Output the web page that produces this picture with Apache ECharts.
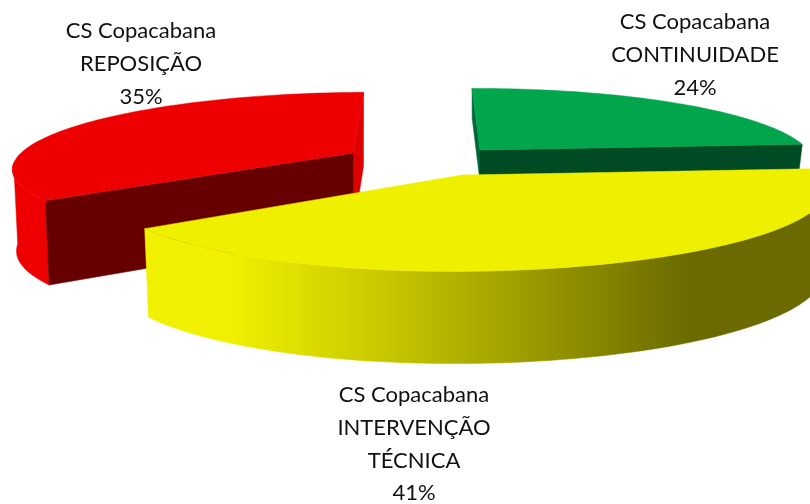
<!DOCTYPE html>
<html><head><meta charset="utf-8">
<style>html,body{margin:0;padding:0;background:#fff}#c{width:810px;height:504px}</style>
<script src="https://cdn.jsdelivr.net/npm/echarts@6/dist/echarts.min.js"></script>
</head><body><div id="c"></div>
<script>
const categories = ['CS Copacabana\nCONTINUIDADE', 'CS Copacabana\nINTERVENÇÃO\nTÉCNICA', 'CS Copacabana\nREPOSIÇÃO'];
const shares = [24, 41, 35];

// Presentation only: where each exploded slice sits and how it is shaded
const startAngle = -1, k = 0.17;
const looks = [
  {ax:480, ay:150, S:328, SR:328, T:72, vx:459, H:32, top:'#00A54C', cut:'#004A24', back:'#00683A', wall:'#00A54C', lx:695, ly:6},
  {ax:462, ay:175, S:351, SR:362, T:80, vx:506, H:84, top:'#EFEF00', cut:'#6A6A00', back:'#6A6A00',
   wall:{type:'linear', x:143, y:0, x2:810, y2:0, global:true, colorStops:[
     {offset:0, color:'#F0F000'}, {offset:0.13, color:'#F0F000'}, {offset:0.36, color:'#C8C800'},
     {offset:0.82, color:'#6A6A00'}, {offset:1, color:'#6A6A00'}]}, lx:414, ly:379},
  {ax:353, ay:153, S:332, SR:332, T:71, vx:460, H:80, top:'#EE0000', cut:'#660000', back:'#DD0000', wall:'#EE0000', lx:141, ly:15}
];

function project(l, deg, down) {
  const a = deg * Math.PI / 180, X = Math.sin(a), Y = -Math.cos(a), w = 1 - k * Y;
  let x = l.ax + (X > 0 ? l.SR : l.S) * X / w + (l.vx - l.ax) * (1 - 1 / w);
  let y = l.ay + l.T * Y / w;
  if (down) { x += (l.ax - x) * 0.012; y += l.H * Math.sqrt(1 / w); }
  return [x, y];
}
function arc(l, from, to, down) {
  const pts = [], n = Math.max(2, Math.ceil(Math.abs(to - from) / 1.5));
  for (let i = 0; i <= n; i++) pts.push(project(l, from + (to - from) * i / n, down));
  return pts;
}
function apex(l, down) {
  return down ? [l.ax, l.ay + l.H] : [l.ax, l.ay];
}
function poly(points, fill) {
  return {type:'polygon', shape:{points}, style:{fill, stroke:fill, lineWidth:0.5}};
}
const total = shares.reduce((s, v) => s + v, 0);
const spans = [];
shares.reduce((from, v) => { const to = from + v / total * 360; spans.push([from, to]); return to; }, startAngle);

// slices are painted back to front: red, green, yellow
const paintOrder = [2, 0, 1];

function renderItem(params) {
  const i = paintOrder[params.dataIndex], l = looks[i], [from, to] = spans[i];
  const kids = [];
  // rim only where it faces the viewer, between the outline's left and right extremes
  const rimFrom = Math.max(from, 98), rimTo = Math.min(to, 262);
  if (rimTo > rimFrom && i !== 0) {
    kids.push(poly(arc(l, rimFrom, rimTo, false).concat(arc(l, rimFrom, rimTo, true).reverse()), l.wall));
  }
  // cut faces
  const s0 = project(l, from, false), s1 = project(l, from, true);
  const e0 = project(l, to, false), e1 = project(l, to, true);
  const A = apex(l, false), B = apex(l, true);
  if (i === 0) {
    kids.push(poly([s0, A, B, s1], l.back));
    kids.push(poly([A, e0, e1, B], l.cut));
  } else if (i === 2) {
    kids.push(poly([e0, A, B, e1], l.back));
    kids.push(poly([A, s0, s1, B], l.cut));
  }
  // top face
  kids.push(poly([A].concat(arc(l, from, to, false)), l.top));
  return {type:'group', children:kids};
}

const chart = echarts.init(document.getElementById('c'), null, {renderer:'canvas'});
chart.setOption({
  animation:false,
  backgroundColor:'#fff',
  series:[{
    type:'custom', coordinateSystem:'none', silent:true,
    data:paintOrder.map(i => shares[i]),
    renderItem, clip:false
  }],
  graphic:{elements:categories.map((c, i) => ({
    type:'text', z:100, silent:true,
    x:looks[i].lx, y:looks[i].ly,
    style:{
      text:c + '\n' + shares[i] + '%',
      fill:'#111', align:'center', verticalAlign:'top',
      font:'22px Lato', lineHeight:32.6
    }
  }))}
});
</script></body></html>
